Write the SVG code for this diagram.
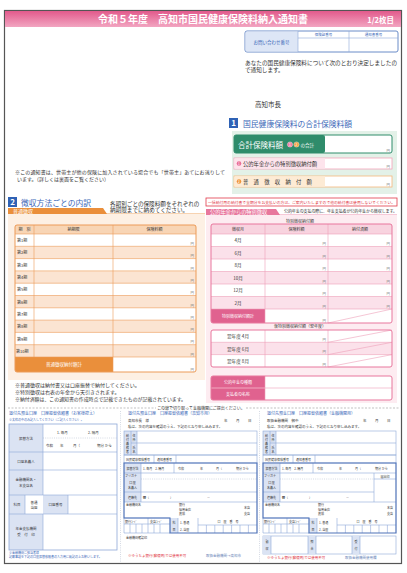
<svg xmlns="http://www.w3.org/2000/svg" width="407" height="573" viewBox="0 0 407 573">
<defs>
<linearGradient id="hdr" x1="0" y1="0" x2="0" y2="1">
<stop offset="0" stop-color="#e25a8c"/><stop offset="1" stop-color="#f2a5c1"/>
</linearGradient>
</defs>
<style>
text{font-family:"Noto Sans CJK JP","Noto Sans",sans-serif;fill:#333}
.w{fill:#fff}
.b{fill:#3b68b8}
.r{fill:#e0303a}
.c{text-anchor:middle}
.yen{font-size:3.4px;fill:#777;text-anchor:end}
.s5{font-size:5px}
.s45{font-size:4.5px}
.s4{font-size:4px}
.s35{font-size:3.5px}
.s3{font-size:3px}
.ol{stroke:#ec9b58;stroke-width:0.6;fill:none}
.pl{stroke:#eea0b9;stroke-width:0.6;fill:none}
.bl{stroke:#8ea8d8;stroke-width:0.6;fill:none}
.bk{stroke:#4f72b8;stroke-width:1.2;fill:none}
.lab{fill:#dbe3f3}
.dot{stroke:#aab4c8;stroke-width:0.5;stroke-dasharray:1 1.2;fill:none}
</style>

<g id="page">
<rect x="4.5" y="10.5" width="397" height="553" fill="#fff" stroke="#555" stroke-width="1.2"/>
<rect x="5" y="11" width="396" height="16" fill="url(#hdr)"/>
<text x="203" y="23" class="w c" font-size="10" font-weight="bold">令和５年度　高知市国民健康保険料納入通知書</text>
<text x="394" y="23" class="w" font-size="7.5" font-weight="bold" text-anchor="end">1/2枚目</text>
</g>

<g id="contact">
<rect x="245" y="31" width="153" height="21" rx="2" fill="#fff" stroke="#6a8cc8" stroke-width="1"/>
<path d="M247 31.5 H298 V51.5 H247 Q245.5 51.5 245.5 50 V33 Q245.5 31.5 247 31.5Z" fill="#dde6f6"/>
<line x1="298" y1="31" x2="298" y2="52" class="bl"/>
<line x1="349" y1="31" x2="349" y2="52" class="bl"/>
<line x1="298" y1="38" x2="398" y2="38" class="bl"/>
<text x="271.5" y="43.5" class="b c s45">お問い合わせ番号</text>
<text x="323.5" y="36.3" class="b c s35">保険証番号</text>
<text x="373.5" y="36.3" class="b c s35">通知書番号</text>
<text x="245" y="65" font-size="5.6" textLength="152">あなたの国民健康保険料について次のとおり決定しましたの</text>
<text x="245" y="72" font-size="5.6">で通知します。</text>
<text x="255" y="107" font-size="6.5">高知市長</text>
</g>

<g id="note-top">
<text x="15" y="174" class="s5" textLength="210">※この通知書は、世帯主が他の保険に加入されている場合でも「世帯主」あてにお送りして</text>
<text x="17" y="181" class="s5">います。（詳しくは裏面をご覧ください）</text>
</g>

<g id="sec1">
<rect x="229" y="118" width="9" height="10" fill="#2f62b5"/>
<text x="233.5" y="126.3" class="w c" font-size="8" font-weight="bold">1</text>
<text x="243" y="126.5" class="b" font-size="7.8">国民健康保険料の合計保険料額</text>
<rect x="232" y="131" width="165" height="63" fill="#e3f1e8"/>
<rect x="234" y="135" width="158" height="18" rx="2" fill="#fff" stroke="#2f8c6b" stroke-width="1"/>
<rect x="234" y="135" width="91" height="18" rx="2" fill="#2f8c6b"/>
<text x="238" y="147.5" class="w" font-size="7.5">合計保険料額</text>
<circle cx="290" cy="144.5" r="2.6" fill="#f07aa0" stroke="#fff" stroke-width="0.4"/>
<text x="290" y="145.8" class="w c s35">1</text>
<circle cx="296.5" cy="144.5" r="2.6" fill="#f0a040" stroke="#fff" stroke-width="0.4"/>
<text x="296.5" y="145.8" class="w c s35">2</text>
<text x="300.5" y="146.5" class="w s45">の合計</text>
<text x="390" y="152" class="yen">円</text>
<rect x="234" y="158" width="158" height="11" fill="#fff" stroke="#f2a2ba" stroke-width="0.8"/>
<rect x="234.4" y="158.4" width="90.6" height="10.2" fill="#fde4ec"/>
<circle cx="239" cy="163.5" r="2.3" fill="#ea6d96"/>
<text x="239" y="164.7" class="w c" font-size="3.2">1</text>
<text x="243" y="165.5" font-size="5.3">公的年金からの特別徴収納付額</text>
<text x="390" y="168" class="yen">円</text>
<rect x="234" y="176" width="158" height="11" fill="#fff" stroke="#f4b77c" stroke-width="0.8"/>
<rect x="234.4" y="176.4" width="90.6" height="10.2" fill="#fdebd5"/>
<circle cx="239" cy="181.5" r="2.3" fill="#f0953a"/>
<text x="239" y="182.7" class="w c" font-size="3.2">2</text>
<text x="243" y="183.5" font-size="5.3">普　通　徴　収　納　付　額</text>
<text x="390" y="186" class="yen">円</text>
</g>

<g id="sec2">
<rect x="8" y="197" width="9" height="10" fill="#2f62b5"/>
<text x="12.5" y="205.3" class="w c" font-size="8" font-weight="bold">2</text>
<text x="21" y="205.5" class="b" font-size="7.8">徴収方法ごとの内訳</text>
<text x="110" y="205.5" font-size="5.6">各期別ごとの保険料額をそれぞれの</text>
<text x="110" y="212" font-size="5.6">納期限までに納めてください。</text>
<path d="M8 208 H103 L107 214 H8 Z" fill="#ea8f3b"/>
<line x1="103" y1="214" x2="205" y2="214" stroke="#ea8f3b" stroke-width="0.8"/>
<text x="13" y="213" class="w s5">普通徴収</text>
<rect x="8" y="214" width="197" height="166" fill="#fdf0e4"/>
<rect x="15" y="225" width="181" height="147" rx="2" fill="#fff"/>
<rect x="15" y="225" width="181" height="9" fill="#f8d5b5"/>
<g fill="#fbe4d2">
<rect x="15" y="246.3" width="181" height="12.3"/>
<rect x="15" y="270.9" width="181" height="12.3"/>
<rect x="15" y="295.5" width="181" height="12.3"/>
<rect x="15" y="320.1" width="181" height="12.3"/>
<rect x="15" y="344.7" width="181" height="12.3"/>
</g>
<path d="M15 357 H113 V372 H17 Q15 372 15 370 Z" fill="#ea8f3b"/>
<g class="ol">
<path d="M15 234 H196 M15 246.3 H196 M15 258.6 H196 M15 270.9 H196 M15 283.2 H196 M15 295.5 H196 M15 307.8 H196 M15 320.1 H196 M15 332.4 H196 M15 344.7 H196 M15 357 H196"/>
<path d="M34 225 V357 M113 225 V372"/>
</g>
<rect x="15" y="225" width="181" height="147" rx="2" fill="none" stroke="#ec9b58" stroke-width="1"/>
<text x="24.5" y="231.3" class="c s4">期　別</text>
<text x="73.5" y="231.3" class="c s4">納期限</text>
<text x="154.5" y="231.3" class="c s4">保険料額</text>
<g class="s4">
<text x="17" y="242.1">第1期</text>
<text x="17" y="254.4">第2期</text>
<text x="17" y="266.7">第3期</text>
<text x="17" y="279">第4期</text>
<text x="17" y="291.3">第5期</text>
<text x="17" y="303.6">第6期</text>
<text x="17" y="315.9">第7期</text>
<text x="17" y="328.2">第8期</text>
<text x="17" y="340.5">第9期</text>
<text x="16" y="352.8">第10期</text>
</g>
<g>
<text x="194" y="245" class="yen">円</text>
<text x="194" y="257.3" class="yen">円</text>
<text x="194" y="269.6" class="yen">円</text>
<text x="194" y="281.9" class="yen">円</text>
<text x="194" y="294.2" class="yen">円</text>
<text x="194" y="306.5" class="yen">円</text>
<text x="194" y="318.8" class="yen">円</text>
<text x="194" y="331.1" class="yen">円</text>
<text x="194" y="343.4" class="yen">円</text>
<text x="194" y="355.7" class="yen">円</text>
<text x="194" y="370.5" class="yen">円</text>
</g>
<text x="64" y="366" class="w c s45">普通徴収納付額計</text>
<text x="15" y="387" class="s5">※普通徴収は納付書又は口座振替で納付してください。</text>
<text x="15" y="394" class="s5">※特別徴収は右表の年金から天引きされます。</text>
<text x="15" y="401" font-size="4.9" textLength="171">※納付済額は、この通知書の作成時点で記載できたものが記載されています。</text>
</g>

<g id="sec-pension">
<rect x="206" y="198" width="191" height="8" fill="#fff" stroke="#e03a4a" stroke-width="0.8"/>
<text x="208" y="203.6" class="r" font-size="3.8" textLength="187">一括納付用の納付書で全期分をお支払いの方は、ご案内いたしますので他の納付書は使用しないでください。</text>
<path d="M206 209 H276 L280 215 H206 Z" fill="#e8779d"/>
<line x1="276" y1="215" x2="397" y2="215" stroke="#e8779d" stroke-width="0.8"/>
<text x="210" y="214.3" class="w" font-size="5.2">公的年金からの特別徴収</text>
<text x="284" y="213" class="s4" textLength="113">公的年金の支払の際に、年金支払者が公的年金から徴収します。</text>
<rect x="206" y="215" width="191" height="188" fill="#fdecf1"/>
<text x="300" y="222.5" class="c s4">特別徴収納付額</text>
<rect x="211" y="224" width="181" height="99" rx="2" fill="#fff"/>
<rect x="211" y="224" width="181" height="10" fill="#f8d3df"/>
<g fill="#fbe1ea">
<rect x="211" y="246.5" width="181" height="12.5"/>
<rect x="211" y="271.5" width="181" height="12.5"/>
<rect x="211" y="296.5" width="181" height="12.5"/>
</g>
<path d="M211 309 H265 V323 H213 Q211 323 211 321 Z" fill="#e0628f"/>
<g class="pl">
<path d="M211 234 H392 M211 246.5 H392 M211 259 H392 M211 271.5 H392 M211 284 H392 M211 296.5 H392 M211 309 H392"/>
<path d="M265 224 V323 M328 224 V323"/>
<path d="M328 323 L392 309"/>
</g>
<rect x="211" y="224" width="181" height="99" rx="2" fill="none" stroke="#e8779d" stroke-width="1"/>
<text x="238" y="231" class="c s4">徴収月</text>
<text x="296.5" y="231" class="c s4">保険料額</text>
<text x="360" y="231" class="c s4">納付済額</text>
<g class="c" font-size="4.6">
<text x="238" y="242">4月</text>
<text x="238" y="254.5">6月</text>
<text x="238" y="267">8月</text>
<text x="238" y="279.5">10月</text>
<text x="238" y="292">12月</text>
<text x="238" y="304.5">2月</text>
</g>
<g>
<text x="326" y="245" class="yen">円</text><text x="390" y="245" class="yen">円</text>
<text x="326" y="257.5" class="yen">円</text><text x="390" y="257.5" class="yen">円</text>
<text x="326" y="270" class="yen">円</text><text x="390" y="270" class="yen">円</text>
<text x="326" y="282.5" class="yen">円</text><text x="390" y="282.5" class="yen">円</text>
<text x="326" y="295" class="yen">円</text><text x="390" y="295" class="yen">円</text>
<text x="326" y="307.5" class="yen">円</text><text x="390" y="307.5" class="yen">円</text>
<text x="326" y="321.5" class="yen">円</text>
</g>
<text x="238" y="317.5" class="w c s4">特別徴収納付額計</text>
<text x="300" y="328" class="c s4">仮特別徴収納付額（翌年度）</text>
<rect x="211" y="330" width="181" height="37" rx="2" fill="#fff"/>
<rect x="211" y="342.3" width="181" height="12.3" fill="#fbe1ea"/>
<g class="pl">
<path d="M211 342.3 H392 M211 354.6 H392 M265 330 V367 M328 330 V367"/>
<path d="M328 342.3 L392 330 M328 354.6 L392 342.3 M328 367 L392 354.6"/>
</g>
<rect x="211" y="330" width="181" height="37" rx="2" fill="none" stroke="#e8779d" stroke-width="1"/>
<g class="c" font-size="4.6">
<text x="238" y="338.2">翌年度 4月</text>
<text x="238" y="350.5">翌年度 6月</text>
<text x="238" y="362.8">翌年度 8月</text>
</g>
<text x="326" y="341" class="yen">円</text>
<text x="326" y="353.3" class="yen">円</text>
<text x="326" y="365.6" class="yen">円</text>
<rect x="211" y="376" width="181" height="24" rx="2" fill="#fff"/>
<path d="M213 376 H265 V400 H213 Q211 400 211 398 V378 Q211 376 213 376Z" fill="#e0628f"/>
<path d="M211 388 H392 M265 376 V400" class="pl"/>
<line x1="211" y1="388" x2="265" y2="388" stroke="#f3b3c8" stroke-width="0.6"/>
<rect x="211" y="376" width="181" height="24" rx="2" fill="none" stroke="#e8779d" stroke-width="1"/>
<text x="238" y="383.8" class="w c s4">公的年金の種類</text>
<text x="238" y="395.8" class="w c s4">支払者の名称</text>
</g>

<g id="cutline">
<line x1="8" y1="408" x2="400" y2="408" stroke="#999" stroke-width="0.6" stroke-dasharray="2 1.5"/>
<rect x="156" y="405" width="90" height="6" fill="#fff"/>
<text x="201" y="409.6" class="c s4">この線で切り取って金融機関にご提出ください。</text>
<line x1="120.5" y1="411" x2="120.5" y2="562" class="dot"/>
<line x1="259.5" y1="411" x2="259.5" y2="562" class="dot"/>
</g>

<g id="slip1">
<text x="9" y="415" class="b s4">還付先預金口座　口座振替依頼書（お客様控え）</text>
<text x="9" y="421" class="b s3">※太枠の中のみ記入してください（ご記入ください）。</text>
<rect x="9" y="424" width="108" height="126" fill="#fff"/>
<rect x="9" y="424" width="34" height="71" class="lab"/>
<rect x="9" y="495" width="16" height="19" class="lab"/>
<rect x="43" y="495" width="25" height="19" class="lab"/>
<rect x="9" y="514" width="34" height="36" class="lab"/>
<g class="bl">
<path d="M43 424 V495 M43 514 V550 M9 452 H117 M9 470 H117 M9 495 H117 M9 514 H117 M25 495 V514 M68 495 V514"/>
</g>
<line x1="43" y1="438" x2="117" y2="438" class="dot"/>
<rect x="9" y="424" width="108" height="126" fill="none" stroke="#8ea8d8" stroke-width="0.8"/>
<g class="s35">
<text x="26" y="439.5" class="c">振替方法</text>
<text x="57" y="434">1. 毎月</text>
<text x="88" y="434">2. 隔月</text>
<text x="46" y="447">令和</text>
<text x="60" y="447">年</text>
<text x="73" y="447">月（</text>
<text x="97" y="447">期分 から</text>
<text x="26" y="462.5" class="c">口座名義人</text>
<text x="26" y="481" class="c">金融機関名・</text>
<text x="26" y="487" class="c">本支店名</text>
<text x="17" y="506" class="c">科目</text>
<text x="34" y="503.5" class="c">普通</text>
<text x="34" y="509" class="c">当座</text>
<text x="55.5" y="506" class="c">口座番号</text>
<text x="26" y="530" class="c">年金支払機関</text>
<text x="26" y="536" class="c">受　付　印</text>
</g>
<text x="9" y="553.5" class="b s3">※金融機関ご担当者様</text>
<text x="9" y="557.5" class="b s3">記載事項を下記の口座振替依頼書の入力用に転記の上お願いします。</text>
</g>

<g id="slip2" transform="translate(124,0)">
<text x="4" y="415" class="b s4">還付先預金口座　口座振替依頼書（高知市用）</text>
<g class="s35">
<text x="4" y="422">高知市長　様</text>
<text x="100" y="422">年</text><text x="112" y="422">月</text><text x="124" y="422">日</text>
<text x="4" y="428">私は、次の内容を確認のうえ、下記のとおり申し込みます。</text>
</g>
<rect x="0" y="431" width="13" height="24" class="lab"/>
<rect x="0" y="431" width="133" height="24" class="bl"/>
<path d="M7 431 V455 M13 431 V455 M7 443 H133" class="bl"/>
<g class="s3 c">
<text x="3.5" y="437">納</text><text x="3.5" y="441">付</text><text x="3.5" y="445">義</text><text x="3.5" y="449">務</text><text x="3.5" y="453">者</text>
<text x="10" y="436.5">住</text><text x="10" y="441">所</text>
<text x="10" y="448.5">氏</text><text x="10" y="453">名</text>
</g>
<rect x="0" y="455" width="133" height="8" class="bl"/>
<path d="M30 455 V463 M52 455 V463" class="bl"/>
<text x="2" y="460.5" class="s3">国民健康保険番号</text>
<text x="33" y="460.5" class="s3">通知書番号</text>
<rect x="0" y="463" width="17" height="39" class="lab"/>
<rect x="46" y="518" width="8" height="15" class="lab"/>
<path d="M17 463 V502 M50 463 V473 M0 473 H133 M0 492 H133 M0 502 H133 M0 518 H46 M0 524 H46 M24 518 V533 M54 518 V533 M74 518 V533 M74 525 H133 M6 524 V533 M12 524 V533 M18 524 V533 M30 524 V533 M36 524 V533 M82.4 525 V533 M90.8 525 V533 M99.2 525 V533 M107.6 525 V533 M116 525 V533 M124.4 525 V533 M0 533 H46 M0 518 V533" class="bl"/>
<line x1="17" y1="479" x2="133" y2="479" class="dot"/>
<path d="M0 463 H133 V533 H46 V518 H0 Z" class="bk"/>
<g class="s3">
<text x="8.5" y="470" class="c">振替方法</text>
<text x="19" y="470">1. 毎月　2. 隔月</text>
<text x="54" y="470">令和</text><text x="76" y="470">年</text><text x="92" y="470">月（</text><text x="112" y="470">期分 から</text>
<text x="1" y="477">フリガナ</text>
<text x="8.5" y="484" class="c">口 座</text>
<text x="8.5" y="488.5" class="c">名義人</text>
<text x="8.5" y="498.5" class="c">連絡先</text>
<text x="19" y="498.5">☎（</text><text x="46" y="498.5">）</text><text x="83" y="498.5">－</text>
<text x="2" y="506">金融機関名</text>
<text x="55" y="506">銀行</text><text x="55" y="510.5">信用金庫</text><text x="55" y="515">農協</text>
<text x="120" y="509">本店</text><text x="120" y="514.5">支店</text>
<text x="1" y="522.5">銀行ｺｰﾄﾞ</text><text x="26" y="522.5">支店ｺｰﾄﾞ</text>
<text x="50" y="524" class="c">科</text><text x="50" y="530.5" class="c">目</text>
<text x="56" y="524">1. 普通</text><text x="56" y="530.5">2. 当座</text>
<text x="104" y="523.2" class="c">口　座　番　号</text>
<text x="2" y="539">金融機関確認印</text>
</g>
<text x="4" y="557" class="r s35">※ゆうちょ銀行(郵便局)では使用不可</text>
<text x="82" y="557" class="s35" fill="#6b85b8" style="fill:#6b85b8">取扱金融機関→高知市</text>
</g>

<g id="slip3" transform="translate(263,0)">
<text x="4" y="415" class="b s4">還付先預金口座　口座振替依頼書（金融機関用）</text>
<g class="s35">
<text x="4" y="422">取扱金融機関　御中</text>
<text x="100" y="422">年</text><text x="112" y="422">月</text><text x="124" y="422">日</text>
<text x="4" y="428">私は、次の内容を確認のうえ、下記のとおり申し込みます。</text>
</g>
<rect x="0" y="431" width="13" height="24" class="lab"/>
<rect x="0" y="431" width="133" height="24" class="bl"/>
<path d="M7 431 V455 M13 431 V455 M7 443 H133" class="bl"/>
<g class="s3 c">
<text x="3.5" y="437">納</text><text x="3.5" y="441">付</text><text x="3.5" y="445">義</text><text x="3.5" y="449">務</text><text x="3.5" y="453">者</text>
<text x="10" y="436.5">住</text><text x="10" y="441">所</text>
<text x="10" y="448.5">氏</text><text x="10" y="453">名</text>
</g>
<rect x="0" y="455" width="133" height="8" class="bl"/>
<path d="M30 455 V463 M52 455 V463" class="bl"/>
<text x="2" y="460.5" class="s3">国民健康保険番号</text>
<text x="33" y="460.5" class="s3">通知書番号</text>
<rect x="0" y="463" width="17" height="39" class="lab"/>
<rect x="46" y="518" width="8" height="15" class="lab"/>
<path d="M17 463 V502 M50 463 V473 M0 473 H133 M0 492 H111 M0 502 H133 M111 473 V502 M111 479 H133 M0 518 H46 M0 524 H46 M24 518 V533 M54 518 V533 M74 518 V533 M74 525 H133 M6 524 V533 M12 524 V533 M18 524 V533 M30 524 V533 M36 524 V533 M82.4 525 V533 M90.8 525 V533 M99.2 525 V533 M107.6 525 V533 M116 525 V533 M124.4 525 V533 M0 533 H46 M0 518 V533" class="bl"/>
<line x1="17" y1="479" x2="111" y2="479" class="dot"/>
<path d="M0 463 H133 V533 H46 V518 H0 Z" class="bk"/>
<g class="s3">
<text x="8.5" y="470" class="c">振替方法</text>
<text x="19" y="470">1. 毎月　2. 隔月</text>
<text x="54" y="470">令和</text><text x="76" y="470">年</text><text x="92" y="470">月（</text><text x="112" y="470">期分 から</text>
<text x="1" y="477">フリガナ</text>
<text x="122" y="477.5" class="c">届出印</text>
<text x="8.5" y="484" class="c">口 座</text>
<text x="8.5" y="488.5" class="c">名義人</text>
<text x="8.5" y="498.5" class="c">連絡先</text>
<text x="19" y="498.5">☎（</text><text x="46" y="498.5">）</text><text x="83" y="498.5">－</text>
<text x="2" y="506">金融機関名</text>
<text x="55" y="506">銀行</text><text x="55" y="510.5">信用金庫</text><text x="55" y="515">農協</text>
<text x="124" y="509">本店</text><text x="124" y="514.5">支店</text>
<text x="1" y="522.5">銀行ｺｰﾄﾞ</text><text x="26" y="522.5">支店ｺｰﾄﾞ</text>
<text x="50" y="524" class="c">科</text><text x="50" y="530.5" class="c">目</text>
<text x="56" y="524">1. 普通</text><text x="56" y="530.5">2. 当座</text>
<text x="104" y="523.2" class="c">口　座　番　号</text>
</g>
<rect x="0" y="536" width="133" height="18" class="bl"/>
<rect x="0" y="536" width="8" height="18" class="lab"/>
<rect x="45" y="536" width="8" height="18" class="lab"/>
<rect x="89" y="536" width="8" height="18" class="lab"/>
<path d="M8 536 V554 M45 536 V554 M53 536 V554 M89 536 V554 M97 536 V554" class="bl"/>
<g class="s3 c">
<text x="4" y="543">領</text><text x="4" y="550">収</text>
<text x="49" y="543">照</text><text x="49" y="550">合</text>
<text x="93" y="543">受</text><text x="93" y="550">付</text>
</g>
<text x="4" y="559" class="r s35">※ゆうちょ銀行(郵便局)では使用不可</text>
<text x="82" y="559" class="s35" style="fill:#6b85b8">取扱金融機関使用欄</text>
</g>
</svg>
